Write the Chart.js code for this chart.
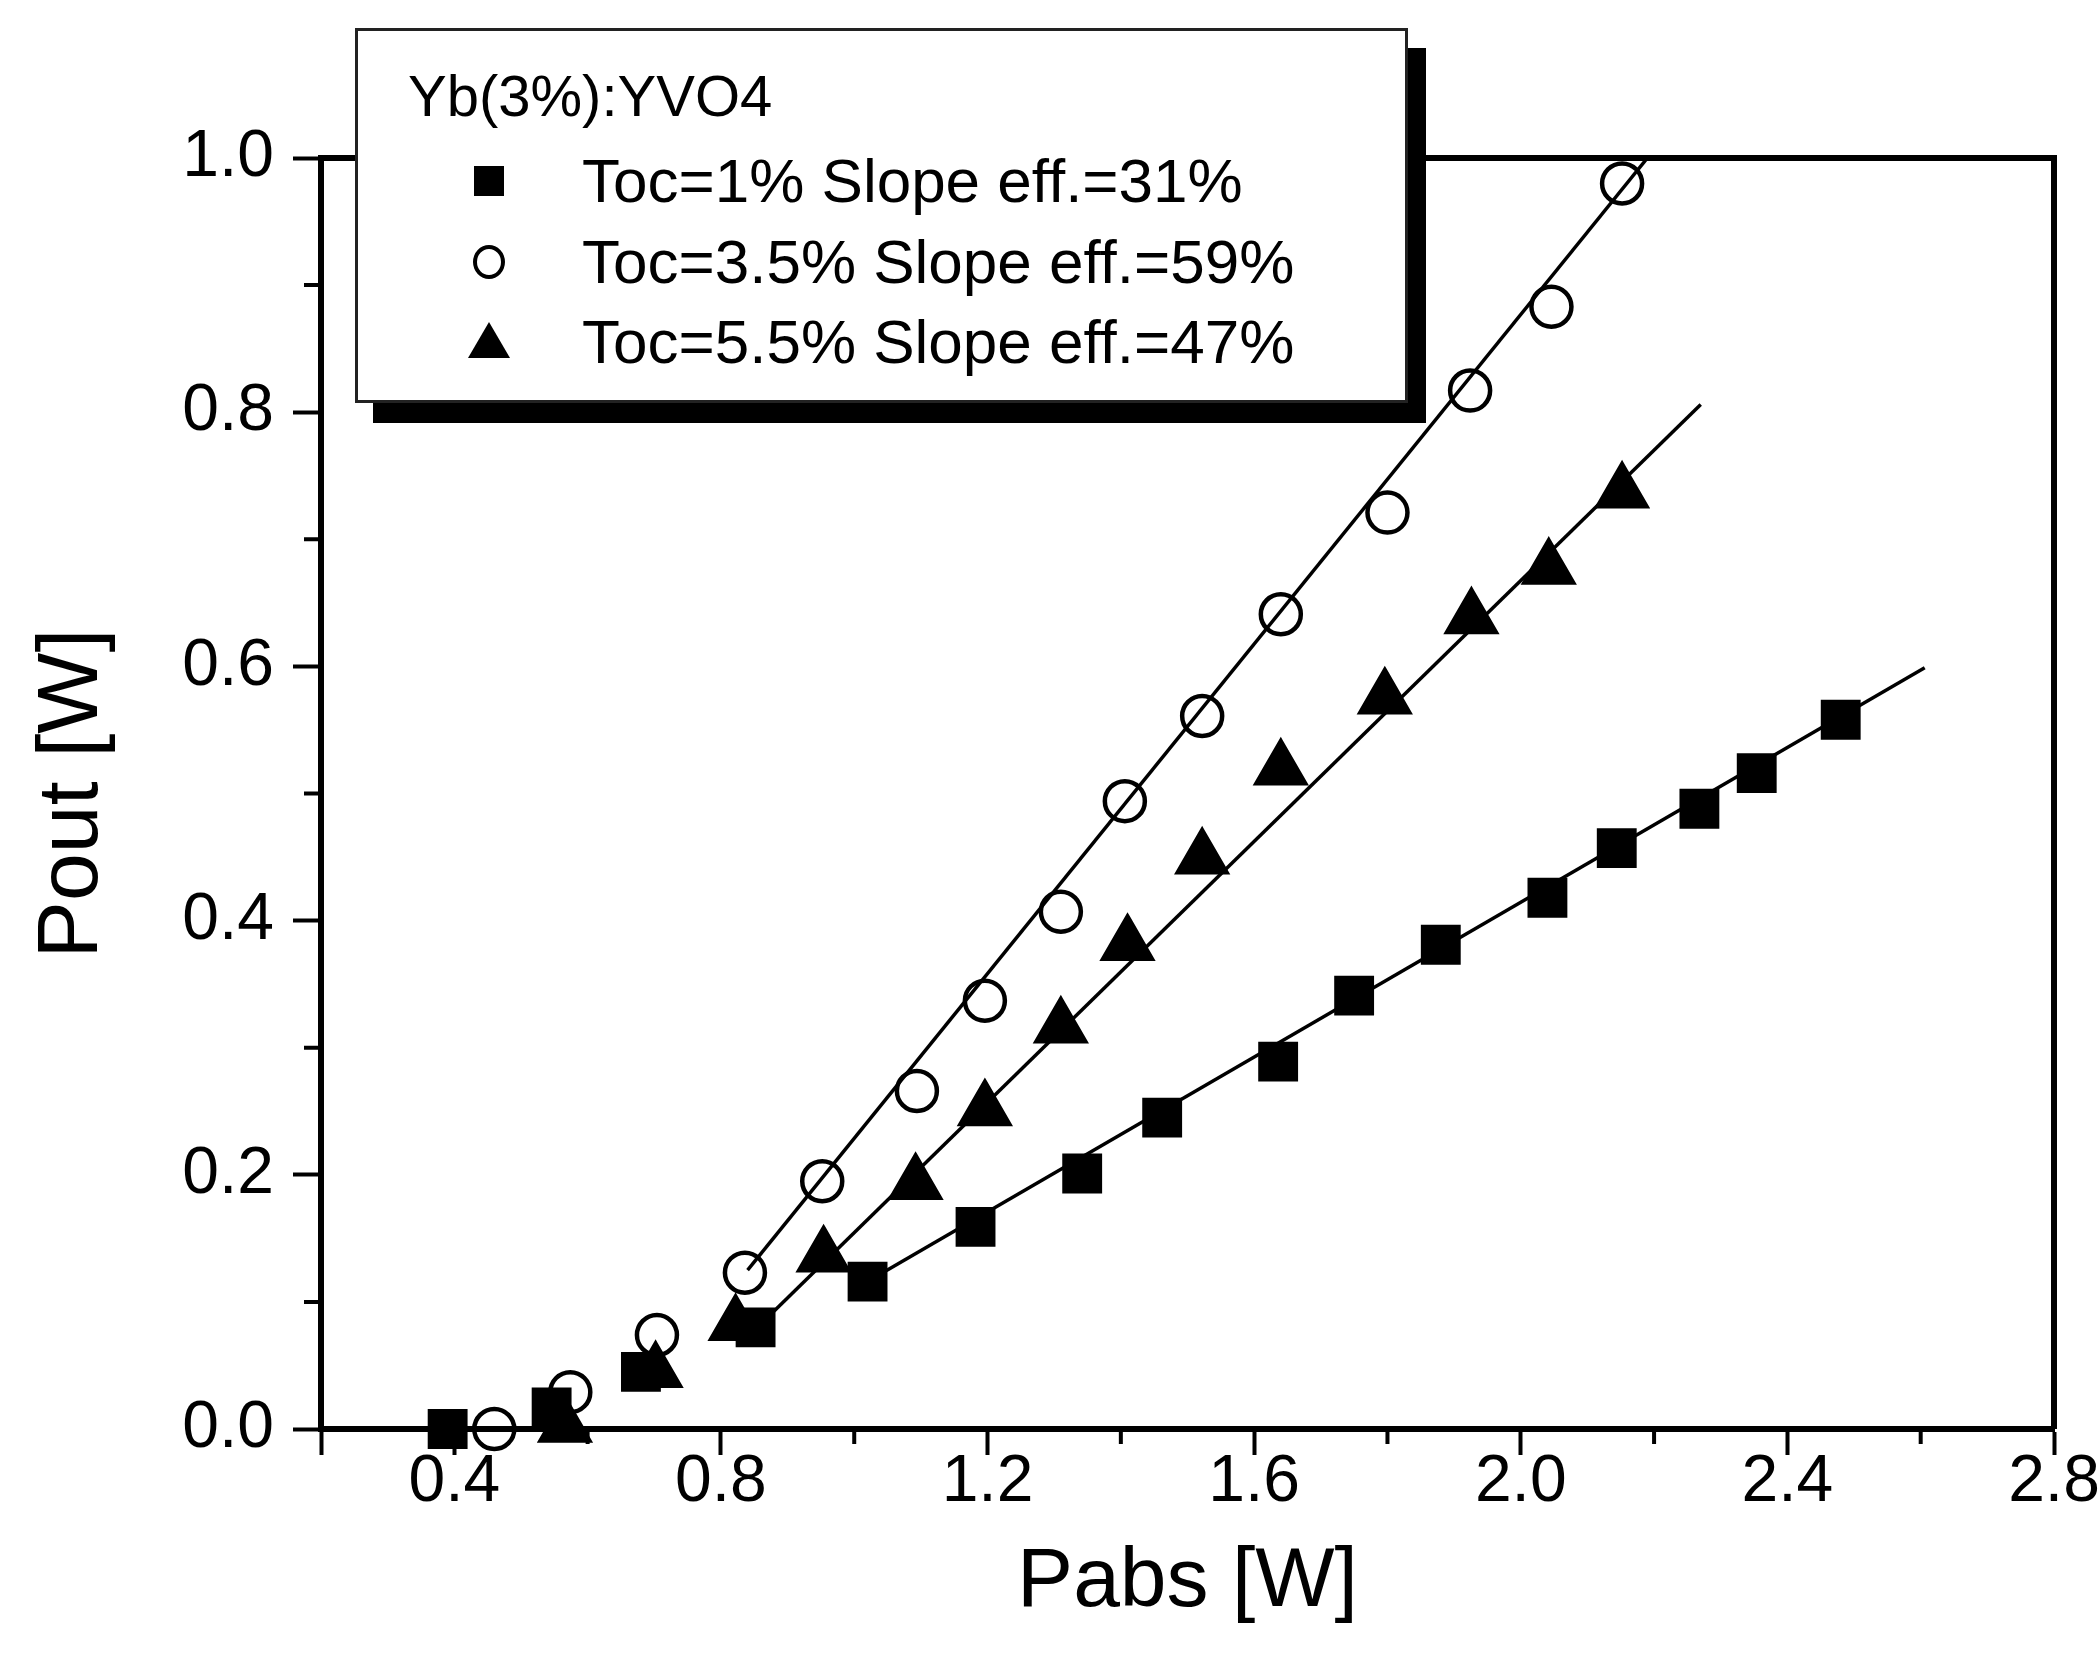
<!DOCTYPE html>
<html>
<head>
<meta charset="utf-8">
<script src="https://cdn.jsdelivr.net/npm/chart.js@4/dist/chart.umd.min.js"></script>
<style>
  html, body { margin: 0; padding: 0; background: #fff; }
  #wrap { position: relative; width: 2098px; height: 1669px; overflow: hidden; font-family: "Liberation Sans", Arial, sans-serif; }
  #plot { position: absolute; left: 0; top: 0; }
  #legend {
    position: absolute; left: 355px; top: 28px; width: 1053px; height: 375px;
    box-sizing: border-box; border: 3px solid #222; background: #fff;
    box-shadow: 18px 20px 0 #000;
  }
  #legend .title { position: absolute; left: 50px; top: 35px; font-size: 58px; line-height: 60px; color: #000; }
  #legend .row { position: absolute; left: 0; height: 70px; width: 100%; }
  #legend .row span { position: absolute; left: 224px; top: 0; font-size: 62px; line-height: 70px; color: #000; white-space: nowrap; }
  #legend .mk { position: absolute; }
  .mk.rect { width: 30px; height: 30px; background: #000; left: 116px; top: 20px; }
  .mk.circle { width: 24px; height: 26px; border: 4px solid #000; border-radius: 50%; left: 115px; top: 18px; }
  .mk.triangle { width: 0; height: 0; border-left: 21px solid transparent; border-right: 21px solid transparent; border-bottom: 36px solid #000; left: 110px; top: 15px; }
</style>
</head>
<body>
<div id="wrap">
  <canvas id="plot" width="2098" height="1669"></canvas>
  <div id="legend"><div class="title"></div></div>
</div>
<script>
const legendTitle = "Yb(3%):YVO4";
const seriesLabels = [
  "Toc=1% Slope eff.=31%",
  "Toc=3.5% Slope eff.=59%",
  "Toc=5.5% Slope eff.=47%"
];
const seriesStyles = ["rect", "circle", "triangle"];

// measured points, Pabs [W] / Pout [W]
const pabsToc1 = [0.39, 0.546, 0.68, 0.852, 1.02, 1.182, 1.342, 1.462, 1.636, 1.75, 1.88, 2.04, 2.144, 2.268, 2.354, 2.48];
const poutToc1 = [0.0, 0.017, 0.045, 0.08, 0.116, 0.159, 0.201, 0.245, 0.289, 0.341, 0.381, 0.418, 0.457, 0.488, 0.516, 0.558];

const pabsToc35 = [0.46, 0.574, 0.704, 0.836, 0.952, 1.094, 1.196, 1.31, 1.406, 1.522, 1.64, 1.8, 1.924, 2.046, 2.152];
const poutToc35 = [0.0, 0.029, 0.074, 0.123, 0.195, 0.266, 0.337, 0.407, 0.494, 0.561, 0.641, 0.721, 0.817, 0.883, 0.98];

const pabsToc55 = [0.566, 0.702, 0.822, 0.954, 1.092, 1.196, 1.31, 1.41, 1.522, 1.64, 1.796, 1.926, 2.042, 2.152];
const poutToc55 = [0.002, 0.045, 0.082, 0.136, 0.193, 0.251, 0.316, 0.381, 0.449, 0.519, 0.575, 0.638, 0.677, 0.737];

// linear fits (end points)
const fitToc1X = [1.0, 2.606];
const fitToc1Y = [0.11, 0.599];
const fitToc35X = [0.84, 2.19];
const fitToc35Y = [0.125, 1.0];
const fitToc55X = [0.845, 2.27];
const fitToc55Y = [0.075, 0.806];

const xTicks = [0.2, 0.4, 0.8, 1.2, 1.6, 2.0, 2.4, 2.8];
const xMinorTicks = [0.6, 1.0, 1.4, 1.8, 2.2, 2.6];
const yTicks = [0.0, 0.2, 0.4, 0.6, 0.8, 1.0];
const yMinorTicks = [0.1, 0.3, 0.5, 0.7, 0.9];

const toPoints = (xs, ys) => xs.map((x, i) => ({ x, y: ys[i] }));

// legend
const legend = document.getElementById("legend");
legend.querySelector(".title").textContent = legendTitle;
const rowTops = [115, 196, 276];
seriesLabels.forEach((label, i) => {
  const row = document.createElement("div");
  row.className = "row";
  row.style.top = rowTops[i] + "px";
  const mk = document.createElement("div");
  mk.className = "mk " + seriesStyles[i];
  const txt = document.createElement("span");
  txt.textContent = label;
  row.appendChild(mk);
  row.appendChild(txt);
  legend.appendChild(row);
});

const frameAndMinorTicks = {
  id: "frameAndMinorTicks",
  afterDraw(chart) {
    const { ctx, chartArea: a, scales: { x, y } } = chart;
    ctx.save();
    ctx.strokeStyle = "#000";
    ctx.lineWidth = 6;
    ctx.beginPath();
    ctx.moveTo(a.left, a.top);
    ctx.lineTo(a.right, a.top);
    ctx.lineTo(a.right, a.bottom);
    ctx.stroke();
    ctx.lineWidth = 4;
    ctx.beginPath();
    xMinorTicks.forEach(v => {
      const px = x.getPixelForValue(v);
      ctx.moveTo(px, a.bottom);
      ctx.lineTo(px, a.bottom + 15);
    });
    yMinorTicks.forEach(v => {
      const py = y.getPixelForValue(v);
      ctx.moveTo(a.left, py);
      ctx.lineTo(a.left - 17, py);
    });
    ctx.stroke();
    ctx.restore();
  }
};

Chart.defaults.font.family = '"Liberation Sans", Arial, sans-serif';
Chart.defaults.color = "#000";

const pointSet = (label, data, style, radius, fill, order) => ({
  label, data, pointStyle: style, pointRadius: radius, pointHoverRadius: radius,
  backgroundColor: fill, borderColor: "#000", borderWidth: 4.5,
  showLine: false, clip: false, order
});
const fitSet = (data) => ({
  data, showLine: true, pointRadius: 0, borderColor: "#000", borderWidth: 3.5,
  fill: false, order: 10
});

new Chart(document.getElementById("plot"), {
  type: "scatter",
  data: {
    datasets: [
      pointSet(seriesLabels[0], toPoints(pabsToc1, poutToc1), "rect", 25, "#000", 3),
      pointSet(seriesLabels[1], toPoints(pabsToc35, poutToc35), "circle", 20, "rgba(0,0,0,0)", 1),
      pointSet(seriesLabels[2], toPoints(pabsToc55, poutToc55), "triangle", 28, "#000", 2),
      fitSet(toPoints(fitToc1X, fitToc1Y)),
      fitSet(toPoints(fitToc35X, fitToc35Y)),
      fitSet(toPoints(fitToc55X, fitToc55Y))
    ]
  },
  options: {
    responsive: false,
    devicePixelRatio: 1,
    animation: false,
    layout: { padding: { top: 158, right: 44, left: 0, bottom: 0 } },
    plugins: { legend: { display: false }, tooltip: { enabled: false } },
    scales: {
      x: {
        type: "linear", min: 0.2, max: 2.8,
        afterBuildTicks: s => { s.ticks = xTicks.map(v => ({ value: v })); },
        afterFit: s => { s.height = 240; s.paddingLeft = 0; s.paddingRight = 0; },
        ticks: {
          font: { size: 66 }, padding: -12, maxRotation: 0, autoSkip: false,
          callback: v => (v === 0.2 ? "" : v.toFixed(1))
        },
        grid: { drawOnChartArea: false, drawTicks: true, tickLength: 26, tickWidth: 4, tickColor: "#000" },
        border: { display: true, width: 6, color: "#000" },
        title: { display: true, text: "Pabs [W]", font: { size: 84 }, padding: { top: 0, bottom: 36 } }
      },
      y: {
        type: "linear", min: 0, max: 1.0,
        afterBuildTicks: s => { s.ticks = yTicks.map(v => ({ value: v })); },
        afterFit: s => { s.width = 321; },
        ticks: { font: { size: 66 }, padding: 19, autoSkip: false, callback: v => v.toFixed(1) },
        grid: { drawOnChartArea: false, drawTicks: true, tickLength: 28, tickWidth: 4, tickColor: "#000" },
        border: { display: true, width: 6, color: "#000" },
        title: { display: true, text: "Pout [W]", font: { size: 86 }, padding: { top: 22, bottom: 0 } }
      }
    }
  },
  plugins: [frameAndMinorTicks]
});
</script>
</body>
</html>
